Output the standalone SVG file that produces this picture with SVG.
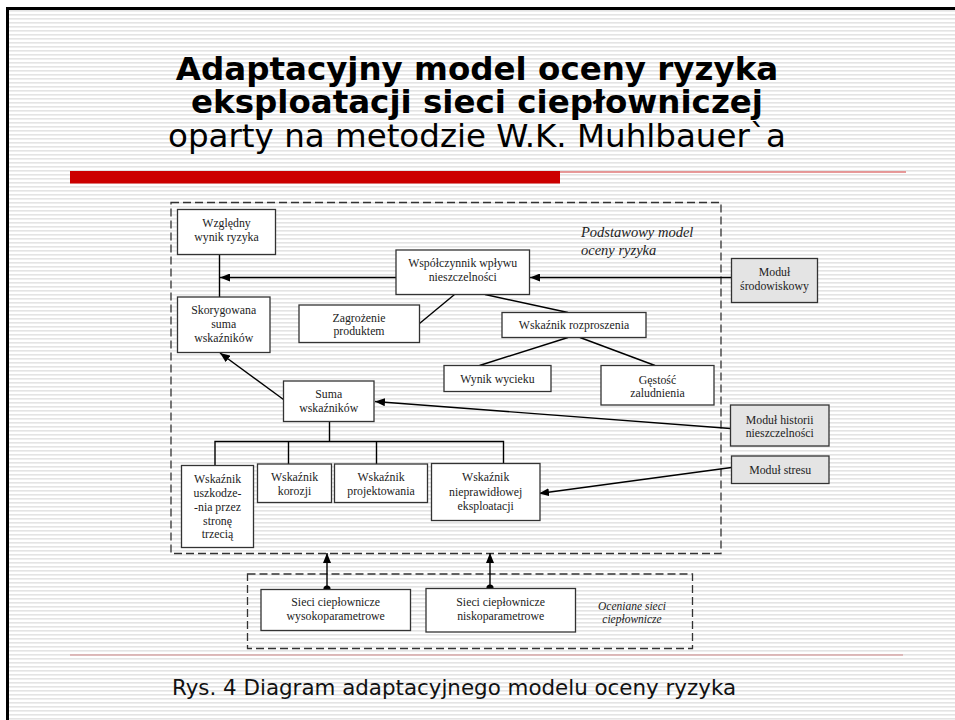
<svg xmlns="http://www.w3.org/2000/svg" width="955" height="720" viewBox="0 0 955 720">
<defs>
<pattern id="stripes" width="8" height="4" patternUnits="userSpaceOnUse">
<rect x="0" y="0" width="8" height="4" fill="#ffffff"/>
<rect x="0" y="2" width="8" height="1.6" fill="#e4e4e4"/>
</pattern>
<marker id="arr" viewBox="0 0 10 8" refX="10" refY="4" markerWidth="10" markerHeight="8" markerUnits="userSpaceOnUse" orient="auto">
<path d="M0,0 L10,4 L0,8 z" fill="#000"/>
</marker>
<style>
.box{fill:#fff;stroke:#333;stroke-width:1.3}
.gbox{fill:#e4e4e4;stroke:#333;stroke-width:1.3}
.dash{fill:none;stroke:#333;stroke-width:1.3;stroke-dasharray:8,4}
.t{font-family:"Liberation Serif","Times New Roman",serif;font-size:11.8px;fill:#222;text-anchor:middle}
.it{font-family:"Liberation Serif","Times New Roman",serif;font-style:italic;fill:#222}
.ln{stroke:#000;stroke-width:1.4;fill:none}
.ttl{font-family:"DejaVu Sans",Verdana,sans-serif;font-size:32.5px;fill:#000;text-anchor:middle}
</style>
</defs>
<rect x="0" y="0" width="955" height="720" fill="#fff"/>
<rect x="9" y="9" width="946" height="711" fill="url(#stripes)"/>
<path d="M7.5,720 V8.5 H955" fill="none" stroke="#000" stroke-width="3"/>

<g id="title">
<text class="ttl" x="477" y="80" font-weight="bold">Adaptacyjny model oceny ryzyka</text>
<text class="ttl" x="477" y="113" font-weight="bold">eksploatacji sieci ciepłowniczej</text>
<text class="ttl" x="477" y="147">oparty na metodzie W.K. Muhlbauer`a</text>
</g>
<rect x="70" y="171" width="490" height="12.5" fill="#cc0000"/>
<line x1="560" y1="172" x2="906" y2="172" stroke="#e07878" stroke-width="1.5"/>
<line x1="70" y1="655" x2="903" y2="655" stroke="#d08888" stroke-width="1"/>
<text id="caption" x="172" y="695" font-family="'DejaVu Sans',Verdana,sans-serif" font-size="21.4" fill="#111">Rys. 4 Diagram adaptacyjnego modelu oceny ryzyka</text>

<g id="group-podstawowy">
<rect class="dash" x="171" y="202.5" width="550" height="351"/>
<text class="it" font-size="14.5" x="581" y="237">Podstawowy model</text>
<text class="it" font-size="14.5" x="581" y="255">oceny ryzyka</text>
</g>
<g id="group-oceniane">
<rect class="dash" x="247.5" y="574" width="445" height="74.5"/>
<text class="it" font-size="11.5" x="632" y="609.5" text-anchor="middle">Oceniane sieci</text>
<text class="it" font-size="11.5" x="632" y="623" text-anchor="middle">ciepłownicze</text>
</g>

<g id="connectors">
<line class="ln" x1="219.5" y1="254.5" x2="219.5" y2="297"/>
<line class="ln" x1="396" y1="277.5" x2="220" y2="277.5" marker-end="url(#arr)"/>
<line class="ln" x1="731.5" y1="277.5" x2="530" y2="277.5" marker-end="url(#arr)"/>
<line class="ln" x1="419.5" y1="323.5" x2="454.5" y2="294.5"/>
<line class="ln" x1="485" y1="294.5" x2="568" y2="312.5"/>
<line class="ln" x1="568" y1="337.5" x2="479.5" y2="365.5"/>
<line class="ln" x1="580" y1="337.5" x2="655" y2="365.5"/>
<line class="ln" x1="283.5" y1="399.5" x2="220" y2="353" marker-end="url(#arr)"/>
<line class="ln" x1="730.5" y1="428.5" x2="375" y2="401.5" marker-end="url(#arr)"/>
<line class="ln" x1="731.5" y1="467.5" x2="539" y2="493.5" marker-end="url(#arr)"/>
<path class="ln" d="M329.5,421.5 V441.5 M215,465.5 V441.5 H503.5 V463.5 M288.5,441.5 V464 M376.5,441.5 V464"/>
<line class="ln" x1="327" y1="589" x2="327" y2="553" marker-end="url(#arr)"/>
<line class="ln" x1="490" y1="588" x2="490" y2="553" marker-end="url(#arr)"/>
<circle cx="327" cy="589" r="3.6" fill="#000"/>
<circle cx="490" cy="588" r="3.6" fill="#000"/>
</g>

<g id="n-wzgledny">
<rect class="box" x="177.5" y="209.5" width="98" height="45"/>
<text class="t" x="226.5" y="227">Względny</text>
<text class="t" x="226.5" y="241">wynik ryzyka</text>
</g>
<g id="n-skorygowana">
<rect class="box" x="177.5" y="297" width="92.5" height="55.5"/>
<text class="t" x="223.7" y="314">Skorygowana</text>
<text class="t" x="223.7" y="327.5">suma</text>
<text class="t" x="223.7" y="341.5">wskaźników</text>
</g>
<g id="n-wspolczynnik">
<rect class="box" x="396" y="250" width="133.5" height="44.5"/>
<text class="t" x="462.7" y="267">Współczynnik wpływu</text>
<text class="t" x="462.7" y="281">nieszczelności</text>
</g>
<g id="n-zagrozenie">
<rect class="box" x="299" y="305" width="120.5" height="37.5"/>
<text class="t" x="359" y="321.5">Zagrożenie</text>
<text class="t" x="359" y="335">produktem</text>
</g>
<g id="n-rozproszenia">
<rect class="box" x="502" y="312.5" width="144" height="25"/>
<text class="t" x="574" y="329">Wskaźnik rozproszenia</text>
</g>
<g id="n-wyciek">
<rect class="box" x="444" y="365.5" width="107" height="26"/>
<text class="t" x="497.5" y="382.5">Wynik wycieku</text>
</g>
<g id="n-gestosc">
<rect class="box" x="601" y="365.5" width="113" height="39.5"/>
<text class="t" x="657.5" y="384">Gęstość</text>
<text class="t" x="657.5" y="397">zaludnienia</text>
</g>
<g id="n-srodowiskowy">
<rect class="gbox" x="731.5" y="258.5" width="86" height="44"/>
<text class="t" x="774.5" y="276">Moduł</text>
<text class="t" x="774.5" y="290">środowiskowy</text>
</g>
<g id="n-suma">
<rect class="box" x="283.5" y="381" width="90.5" height="40.5"/>
<text class="t" x="328.7" y="398">Suma</text>
<text class="t" x="328.7" y="411.5">wskaźników</text>
</g>
<g id="n-historii">
<rect class="gbox" x="730.5" y="405" width="98.5" height="41"/>
<text class="t" x="779.7" y="423.5">Moduł historii</text>
<text class="t" x="779.7" y="436.5">nieszczelności</text>
</g>
<g id="n-stresu">
<rect class="gbox" x="731.5" y="456" width="97.5" height="27.5"/>
<text class="t" x="780.2" y="473.5">Moduł stresu</text>
</g>
<g id="n-uszkodzenia">
<rect class="box" x="181.5" y="465.5" width="72" height="82"/>
<text class="t" x="217.5" y="482.7">Wskaźnik</text>
<text class="t" x="217.5" y="496.7">uszkodze-</text>
<text class="t" x="217.5" y="510.7">-nia przez</text>
<text class="t" x="217.5" y="524.7">stronę</text>
<text class="t" x="217.5" y="538.3">trzecią</text>
</g>
<g id="n-korozji">
<rect class="box" x="257.5" y="464" width="74" height="38.5"/>
<text class="t" x="294.5" y="481.3">Wskaźnik</text>
<text class="t" x="294.5" y="494.7">korozji</text>
</g>
<g id="n-projektowania">
<rect class="box" x="334.5" y="464" width="93" height="38.5"/>
<text class="t" x="381" y="481.3">Wskaźnik</text>
<text class="t" x="381" y="494.7">projektowania</text>
</g>
<g id="n-nieprawidlowej">
<rect class="box" x="431.5" y="463.5" width="108.5" height="57"/>
<text class="t" x="485.7" y="481.3">Wskaźnik</text>
<text class="t" x="485.7" y="496">nieprawidłowej</text>
<text class="t" x="485.7" y="510">eksploatacji</text>
</g>
<g id="n-wysoko">
<rect class="box" x="261" y="589.5" width="149.5" height="41"/>
<text class="t" x="335.7" y="606.3">Sieci ciepłownicze</text>
<text class="t" x="335.7" y="620.3">wysokoparametrowe</text>
</g>
<g id="n-nisko">
<rect class="box" x="426" y="588.5" width="149.5" height="43.5"/>
<text class="t" x="500.7" y="606.3">Sieci ciepłownicze</text>
<text class="t" x="500.7" y="619.7">niskoparametrowe</text>
</g>
</svg>
